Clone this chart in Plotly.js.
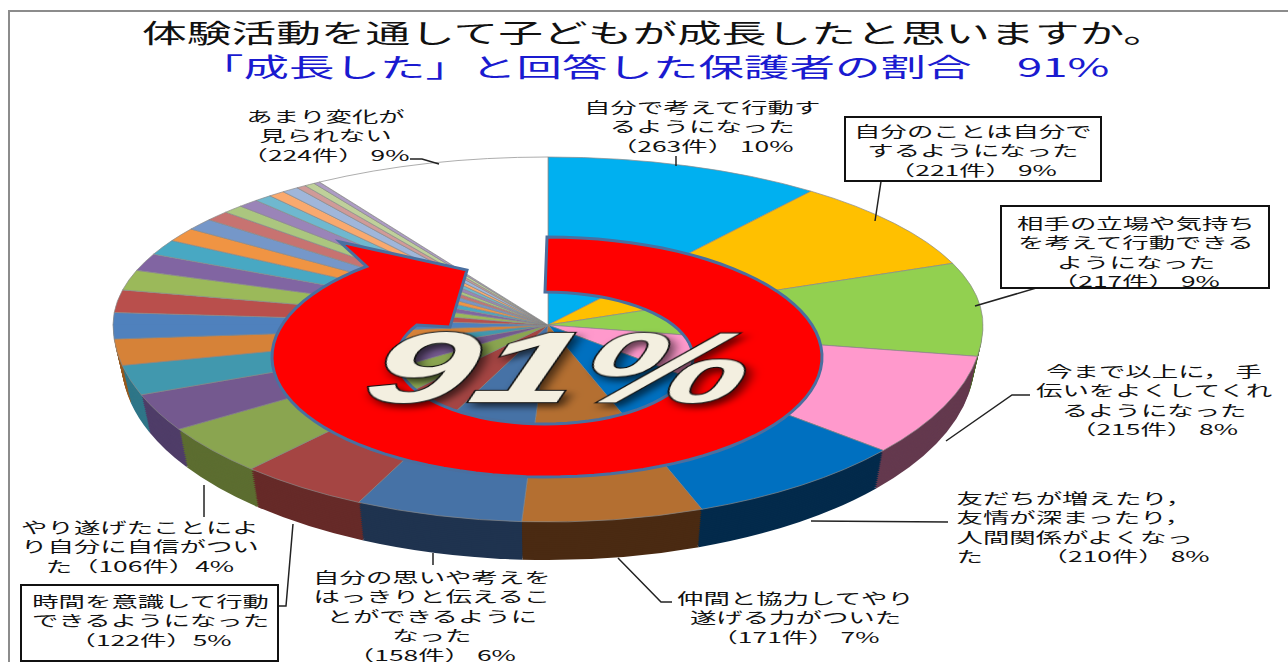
<!DOCTYPE html>
<html>
<head>
<meta charset="utf-8">
<script src="https://cdn.plot.ly/plotly-3.0.1.min.js"></script>
<style>
html,body{margin:0;padding:0;background:#fff;overflow:hidden}
#gd{width:1288px;height:662px}
.pielayer path{vector-effect:non-scaling-stroke}
</style>
</head>
<body>
<div id="gd"></div>
<script>
// ---- data ----
const titleLine1 = "体験活動を通して子どもが成長したと思いますか。";
const titleLine2 = "「成長した」と回答した保護者の割合　91%";
const categories = [
 "自分で考えて行動するようになった","自分のことは自分でするようになった","相手の立場や気持ちを考えて行動できるようになった",
 "今まで以上に，手伝いをよくしてくれるようになった","友だちが増えたり，友情が深まったり，人間関係がよくなった","仲間と協力してやり遂げる力がついた",
 "自分の思いや考えをはっきりと伝えることができるようになった","時間を意識して行動できるようになった","やり遂げたことにより自分に自信がついた",
 "その他1","その他2","その他3","その他4","その他5","その他6","その他7","その他8","その他9","その他10",
 "その他11","その他12","その他13","その他14","その他15","その他16","その他17","その他18","その他19",
 "あまり変化が見られない"];
const values = [263,221,217,215,210,171,158,122,106,
 79,63,55,59,55,49,42,37,33,28,24,20,20,17,16,16,9,10,6,
 224];
const topColors = ["#00b0f0","#ffc000","#92d050","#ff99cc","#0070c0","#b46f31","#4672a6","#a54543","#8aa550",
 "#74598f","#4198ae","#d68238","#4f81bd","#b94f4c","#9bb95a","#8165a2","#48a8c3","#f09443",
 "#7597c9","#c77371","#abc67f","#9a84b8","#6fb8cf","#f9a96e","#9fb6da","#d09a98","#bfd09a","#ad9cc4",
 "#ffffff"];
const sideColors = ["#005a7a","#7a5c00","#4a6a28","#64394e","#032a4b","#4a2a12","#1f334f","#662a28","#5c6d30",
 "#4f3d68","#2f7688","#96591f","#35608f","#7d3533","#6c8040","#5a4670","#327688","#a86830",
 "#5070a0","#8a5050","#748a58","#6c5c80","#4d8190","#ae764c","#6f7f98","#92706a","#85926c","#796d8a",
 "#cccccc"];

const labels = [
 {t:"自分で考えて行動す<br>るようになった<br>（263件） 10%", x:702, y:126},
 {t:"自分のことは自分で<br>するようになった<br>（221件） 9%", x:972, y:150},
 {t:"相手の立場や気持ち<br>を考えて行動できる<br>ようになった<br>（217件） 9%", x:1135, y:252},
 {t:"今まで以上に， 手<br>伝いをよくしてくれ<br>るようになった<br>（215件） 8%", x:1154, y:400},
 {t:"友だちが増えたり，<br>友情が深まったり，<br>人間関係がよくなっ<br>た　　 （210件） 8%", x:953, y:527, left:true},
 {t:"仲間と協力してやり<br>遂げる力がついた<br>（171件） 7%", x:795, y:617},
 {t:"自分の思いや考えを<br>はっきりと伝えるこ<br>とができるように<br>なった<br>（158件） 6%", x:431, y:615},
 {t:"時間を意識して行動<br>できるようになった<br>（122件）5%", x:150, y:620},
 {t:"やり遂げたことによ<br>り自分に自信がつい<br>た（106件）4%", x:139, y:546},
 {t:"あまり変化が<br>見られない<br>（224件） 9%", x:326, y:135}
];
const boxes = [[845,117,1101,181],[1001,206,1269,288],[21,585,278,661]];
const leaders = [
 [[410,159],[422,159],[439,164]],
 [[676,156],[676,166]],
 [[893,175],[882,175],[875,221]],
 [[1055,286],[1043,286],[975,306]],
 [[1030,395],[1012,395],[946,441]],
 [[948,522],[811,521]],
 [[672,602],[661,602],[618,558]],
 [[433,553],[433,565]],
 [[278,606],[286,606],[293,524]],
 [[204,485],[204,517]]
];

// ---- page geometry ----
const W=1288,H=662;
const fx=x=>x/W, fy=y=>1-y/H;
const CX=548,CY=325,RX=435,RYTOP=168,RYBOT=197,DEPTH=37,LAYERS=19;
const PIE_R=H/2,PIE_X=W/2,PIE_Y=H/2;

const pie=(colors,lw,lc)=>({type:'pie',labels:categories,values:values,sort:false,direction:'clockwise',rotation:0,
  textinfo:'none',hoverinfo:'skip',showlegend:false,domain:{x:[0,1],y:[0,1]},
  marker:{colors:colors,line:{width:lw,color:lc}}});

const traces=[];
for(let i=0;i<LAYERS;i++) traces.push(pie(sideColors,0,'rgba(0,0,0,0)'));
traces.push(pie(topColors,0.7,'#8a8a8a'));   // far half of the top face
traces.push(pie(topColors,0.7,'#8a8a8a'));   // near half of the top face

// red arrow, from two ellipses
function arc(cx,cy,rx,ry,a0,a1,n){const p=[];for(let i=0;i<=n;i++){const a=(a0+(a1-a0)*i/n)*Math.PI/180;
  p.push([cx+rx*Math.sin(a),cy-ry*Math.cos(a)]);}return p;}
const outer=arc(547,357,275,120,0,319,90);
const inner=arc(545,358,148,66,300,0,70);
const arrowPts=[...outer,[340,242],[467,270],[450,327],...inner];
const pathOf=(pts,close)=>pts.map((p,i)=>(i?'L':'M')+fx(p[0]).toFixed(5)+','+fy(p[1]).toFixed(5)).join(' ')+(close?' Z':'');

const shapes=[];
shapes.push({type:'path',xref:'paper',yref:'paper',path:pathOf([[9,662],[9,11],[1288,11]]),line:{color:'#8c8c8c',width:2}});
leaders.forEach(l=>shapes.push({type:'path',xref:'paper',yref:'paper',path:pathOf(l),line:{color:'#222',width:1.5}}));
boxes.forEach(b=>shapes.push({type:'rect',xref:'paper',yref:'paper',x0:fx(b[0]),x1:fx(b[2]),y0:fy(b[1]),y1:fy(b[3]),fillcolor:'#fff',line:{color:'#111',width:2}}));
shapes.push({type:'path',xref:'paper',yref:'paper',path:pathOf(arrowPts,true),fillcolor:'#ff0000',line:{color:'#4a6f9f',width:3}});

const JP='"Noto Sans CJK JP","Noto Sans",sans-serif';
const annotations=labels.map(l=>({xref:'paper',yref:'paper',x:fx(l.x),y:fy(l.y),text:l.t,showarrow:false,
  xanchor:l.left?'left':'center',yanchor:'middle',align:l.left?'left':'center',font:{family:JP,size:15,color:'#111'}}));
annotations.push({xref:'paper',yref:'paper',x:fx(653),y:fy(66),text:titleLine2,showarrow:false,xanchor:'center',yanchor:'middle',
  font:{family:JP,size:26,color:'#1a1ad0'}});
annotations.push({xref:'paper',yref:'paper',x:fx(561),y:fy(367),text:'91%',showarrow:false,xanchor:'center',yanchor:'middle',
  font:{family:'"Liberation Sans",sans-serif',size:100,weight:700,style:'italic',color:'#f3efe0'}});

const layout={width:W,height:H,margin:{l:0,r:0,t:0,b:0,pad:0},paper_bgcolor:'#fff',plot_bgcolor:'#fff',showlegend:false,
  title:{text:titleLine1,x:fx(655),xanchor:'center',y:fy(34),yanchor:'middle',font:{family:JP,size:26,color:'#111'}},
  shapes:shapes,annotations:annotations};

Plotly.newPlot('gd',traces,layout,{staticPlot:true,displayModeBar:false}).then(gd=>{
  const svg=gd.querySelector('.main-svg');
  const defs=svg.querySelector('defs');
  const NS='http://www.w3.org/2000/svg';
  function clip(id,y,h){const c=document.createElementNS(NS,'clipPath');c.setAttribute('id',id);c.setAttribute('clipPathUnits','userSpaceOnUse');
    const r=document.createElementNS(NS,'rect');r.setAttribute('x',-100);r.setAttribute('y',y);r.setAttribute('width',W+200);r.setAttribute('height',h);
    c.appendChild(r);defs.appendChild(c);}
  clip('halfTop',-100,PIE_Y+100+0.4);
  clip('halfBot',PIE_Y-0.4,H);
  const tr=[...gd.querySelectorAll('.pielayer .trace')];
  tr.forEach((g,i)=>{
    let ry,off=0,sxx=1,cl='halfBot';
    if(i<LAYERS){const t=(LAYERS-i)/LAYERS;off=DEPTH*t;sxx=1-0.02*t;ry=RYBOT+1;}
    else if(i===LAYERS){ry=RYTOP;cl='halfTop';}
    else{ry=RYBOT;}
    g.setAttribute('transform',`translate(${CX},${CY+off}) scale(${RX*sxx/PIE_R},${ry/PIE_R}) translate(${-PIE_X},${-PIE_Y})`);
    g.setAttribute('clip-path',`url(#${cl})`);
  });
  // horizontally stretched lettering, as in the picture
  const stretch=(el,ax,sx)=>el.setAttribute('transform',`translate(${ax},0) scale(${sx},1) translate(${-ax},0)`);
  const an=[...gd.querySelectorAll('.annotation')];
  labels.forEach((l,i)=>stretch(an[i],l.x,1.76));
  stretch(an[labels.length],653,1.75);
  const big=an[labels.length+1];
  big.setAttribute('transform','translate(561,367) skewX(-18) scale(1.9,1) translate(-561,-367)');
  const bt=big.querySelector('text');
  bt.style.stroke='#111';bt.style.strokeWidth='2px';bt.style.paintOrder='stroke';
  bt.style.filter='drop-shadow(3px 4px 3px rgba(0,0,0,.6))';
  const gt=gd.querySelector('.gtitle');
  if(gt) stretch(gt,655,1.72);
});
</script>
</body>
</html>
